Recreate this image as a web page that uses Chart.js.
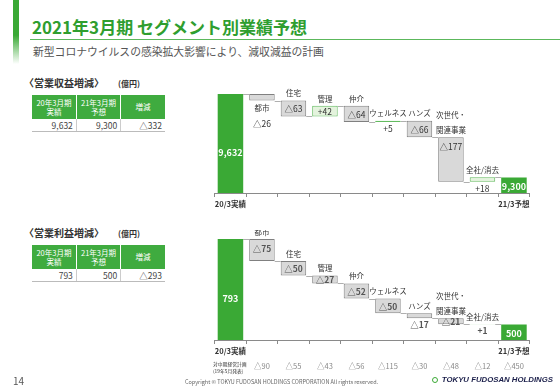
<!DOCTYPE html>
<html lang="ja">
<head>
<meta charset="utf-8">
<script src="https://cdn.jsdelivr.net/npm/chart.js@4.4.1/dist/chart.umd.min.js"></script>
<style>
  html, body { margin: 0; padding: 0; background: #fff; }
  body { width: 560px; height: 388px; position: relative; overflow: hidden; font-family: "Noto Sans CJK JP", sans-serif; color: #333; }
  .side { position: absolute; left: 13px; top: 0; width: 6px; height: 64px; background: linear-gradient(#3aa935 55%, rgba(58, 169, 53, 0)); }
  .title { position: absolute; left: 32px; top: 16px; font-size: 17px; font-weight: bold; color: #2f9e2f; line-height: 21px; white-space: nowrap; }
  .rule { position: absolute; left: 30px; right: 0; top: 39px; height: 1px; background: #5cb85c; }
  .sub { position: absolute; left: 33px; top: 44px; font-size: 10.8px; color: #555; line-height: 14px; white-space: nowrap; }
  .sec { position: absolute; left: 24px; font-size: 10px; font-weight: bold; color: #333; line-height: 12px; white-space: nowrap; }
  .sec span { font-size: 8px; margin-left: 14px; }
  table { position: absolute; left: 32px; width: 133px; border-collapse: collapse; table-layout: fixed; }
  th { background: #3fab3f; color: #fff; font-weight: normal; height: 24px; line-height: 9.5px; font-size: 7.5px; padding: 0; border-left: 1px solid #fff; }
  th:first-child { border-left: none; }
  td { text-align: right; height: 12px; line-height: 12px; padding: 0 3px; font-size: 8.5px; color: #444; border-left: 1px solid #ccc; border-bottom: 1px solid #bbb; }
  td:first-child { border-left: none; }
  .chart { position: absolute; left: 205px; width: 335px; }
  .plan { position: absolute; left: 213px; top: 360px; font-size: 4.8px; line-height: 7px; color: #333; white-space: nowrap; }
  .page { position: absolute; left: 13px; top: 373px; font-size: 10px; color: #555; }
  .copy { position: absolute; left: 185px; top: 378px; font-size: 5.5px; color: #666; white-space: nowrap; }
  .logo { position: absolute; right: 7px; top: 375px; font-size: 7.8px; font-weight: bold; font-style: italic; color: #1b1f4a; font-family: "Liberation Sans", sans-serif; white-space: nowrap; }
  .logo i { display: inline-block; width: 6px; height: 6px; border: 1.6px solid #3aa935; border-radius: 50%; margin-right: 4px; vertical-align: -1px; box-sizing: border-box; }
</style>
</head>
<body>
<div class="side"></div>
<div class="title">2021年3月期 セグメント別業績予想</div>
<div class="rule"></div>
<div class="sub">新型コロナウイルスの感染拡大影響により、減収減益の計画</div>

<div class="sec" style="top:77px">〈営業収益増減〉<span>(億円)</span></div>
<table id="revTable" style="top:95px"></table>
<div class="sec" style="top:227px">〈営業利益増減〉<span>(億円)</span></div>
<table id="opTable" style="top:245px"></table>

<div class="chart" style="top:85px;height:127px"><canvas id="revChart"></canvas></div>
<div class="chart" style="top:230px;height:145px"><canvas id="opChart"></canvas></div>
<div class="plan">対中期経営計画<br>(19年5月発表)</div>

<div class="page">14</div>
<div class="copy">Copyright © TOKYU FUDOSAN HOLDINGS CORPORATION All rights reserved.</div>
<div class="logo"><i></i>TOKYU FUDOSAN HOLDINGS</div>

<script>
// data
const categories = ["20/3実績", "都市", "住宅", "管理", "仲介", "ウェルネス", "ハンズ", ["次世代・", "関連事業"], "全社/消去", "21/3予想"];
const tableHeads = [["20年3月期", "実績"], ["21年3月期", "予想"], ["増減"]];

const revStart = 9632;
const revDeltas = [-26, -63, 42, -64, 5, -66, -177, 18];
const revEnd = 9300;

const opStart = 793;
const opDeltas = [-75, -50, -27, -52, -50, -17, -21, 1];
const opEnd = 500;
const opVsPlan = [-90, -55, -43, -56, -115, -30, -48, -12, -450];

const GREEN = "#3aa935";
const FONT = '"Noto Sans CJK JP", sans-serif';
Chart.defaults.font.family = FONT;

function fmt(v) {
  return v < 0 ? "△" + Math.abs(v).toLocaleString("en-US") : v.toLocaleString("en-US");
}
function fmtDelta(v) {
  return v < 0 ? "△" + Math.abs(v) : "+" + v;
}

function fillTable(id, start, end) {
  const t = document.getElementById(id);
  t.innerHTML = `
    <tr>${tableHeads.map(h => `<th>${h.join("<br>")}</th>`).join("")}</tr>
    <tr><td>${fmt(start)}</td><td>${fmt(end)}</td><td>${fmt(end - start)}</td></tr>
  `;
}
fillTable("revTable", revStart, revEnd);
fillTable("opTable", opStart, opEnd);

function waterfall(start, deltas, end) {
  const data = [[0, start]];
  const levels = [start];
  let level = start;
  deltas.forEach(d => {
    data.push([level, level + d]);
    level += d;
    levels.push(level);
  });
  data.push([0, end]);
  return { data, levels };
}

// labels, connectors and values drawn next to the bars
const waterfallLabels = {
  id: "waterfallLabels",
  beforeDatasetsDraw(chart, args, opts) {
    const ctx = chart.ctx;
    const yScale = chart.scales.y;
    const bars = chart.getDatasetMeta(0).data;
    ctx.save();
    ctx.strokeStyle = "#9a9a9a";
    ctx.lineWidth = 0.8;
    opts.levels.forEach((lv, i) => {
      const a = bars[i], b = bars[i + 1];
      const py = Math.round(yScale.getPixelForValue(lv)) + 0.5;
      ctx.beginPath();
      ctx.moveTo(a.x + a.width / 2, py);
      ctx.lineTo(b.x - b.width / 2, py);
      ctx.stroke();
    });
    ctx.restore();
  },
  afterDatasetsDraw(chart, args, opts) {
    const ctx = chart.ctx;
    const area = chart.chartArea;
    const bars = chart.getDatasetMeta(0).data;
    const n = bars.length;
    ctx.save();
    ctx.textAlign = "center";
    ctx.textBaseline = "middle";
    bars.forEach((bar, i) => {
      const top = Math.min(bar.y, bar.base);
      const bottom = Math.min(Math.max(bar.y, bar.base), area.bottom);
      if (i === 0 || i === n - 1) {
        ctx.fillStyle = "#fff";
        ctx.font = "bold 9px " + FONT;
        const ty = i === 0 ? top + (bottom - top) * 0.59 : (top + bottom) / 2 + 1;
        ctx.fillText(fmt(opts.ends[i === 0 ? 0 : 1]), bar.x, ty);
        return;
      }
      const k = i - 1;
      const lab = categories[i];
      const lines = Array.isArray(lab) ? lab : [lab];
      ctx.fillStyle = "#333";
      ctx.font = "7.5px " + FONT;
      if (opts.labelPos[k] === "below") {
        ctx.fillText(lines[0], bar.x, bottom + 8);
      } else {
        lines.forEach((s, j) => {
          ctx.fillText(s, bar.x, top - 7 - (lines.length - 1 - j) * 15);
        });
      }
      const vp = opts.valuePos[k];
      let vy;
      if (vp === "in") vy = Math.min((top + bottom) / 2, top + 9) + 0.5;
      else if (vp === "below2") vy = bottom + 23;
      else vy = bottom + 7;
      ctx.fillStyle = opts.valueColor;
      ctx.font = (opts.valueBold ? "bold " : "") + "8.5px " + FONT;
      ctx.fillText(fmtDelta(opts.deltas[k]), bar.x, vy);
    });
    if (opts.plan) {
      ctx.fillStyle = "#888";
      ctx.font = "7.5px " + FONT;
      opts.plan.forEach((v, j) => {
        const bar = bars[j + 1];
        ctx.fillText(fmt(v), bar.x, opts.planY);
      });
    }
    ctx.restore();
  }
};

function makeChart(id, start, deltas, end, yMin, yMax, extra) {
  const wf = waterfall(start, deltas, end);
  const n = wf.data.length;
  const fills = wf.data.map((d, i) => i === 0 || i === n - 1 ? GREEN : (d[1] < d[0] ? "#d9d9d9" : "#e4f3dd"));
  const borders = wf.data.map((d, i) => i === 0 || i === n - 1 ? GREEN : (d[1] < d[0] ? "#808080" : "#63bb5f"));
  return new Chart(document.getElementById(id), {
    type: "bar",
    data: {
      labels: categories,
      datasets: [{
        data: wf.data,
        backgroundColor: fills,
        borderColor: borders,
        borderWidth: wf.data.map((d, i) => i === 0 || i === n - 1 ? 0 : 1),
        borderSkipped: false,
        barPercentage: 0.81,
        categoryPercentage: 1,
        clip: 0,
      }],
    },
    options: {
      responsive: true,
      maintainAspectRatio: false,
      animation: false,
      layout: { padding: { left: 9.7, right: 10.3, top: 5, bottom: extra.padBottom } },
      plugins: {
        legend: { display: false },
        tooltip: { enabled: false },
        waterfallLabels: {
          levels: wf.levels,
          deltas,
          ends: [start, end],
          labelPos: extra.labelPos,
          valuePos: extra.valuePos,
          valueColor: extra.valueColor,
          valueBold: extra.valueBold,
          plan: extra.plan,
          planY: extra.planY,
        },
      },
      scales: {
        x: {
          offset: true,
          grid: { display: true, offset: true, drawOnChartArea: false, drawTicks: true, tickLength: 4, color: "#8a8a8a" },
          border: { color: "#8a8a8a" },
          ticks: {
            autoSkip: false,
            maxRotation: 0,
            padding: 3,
            color: "#333",
            font: { size: 7.5, weight: "bold" },
            callback: (v, i) => (i === 0 || i === n - 1 ? categories[i] : ""),
          },
        },
        y: { display: false, min: yMin, max: yMax },
      },
    },
    plugins: [waterfallLabels],
  });
}

makeChart("revChart", revStart, revDeltas, revEnd, 9238, 9648, {
  padBottom: 0,
  labelPos: ["below", "above", "above", "above", "above", "above", "above", "above"],
  valuePos: ["below2", "in", "in", "in", "below", "in", "in", "below"],
  valueColor: "#333",
  valueBold: false,
});

makeChart("opChart", opStart, opDeltas, opEnd, 447, 807, {
  padBottom: 16,
  labelPos: ["above", "above", "above", "above", "above", "above", "above", "above"],
  valuePos: ["in", "in", "in", "in", "in", "below", "in", "below"],
  valueColor: "#555",
  valueBold: true,
  plan: opVsPlan,
  planY: 136,
});
</script>
</body>
</html>
